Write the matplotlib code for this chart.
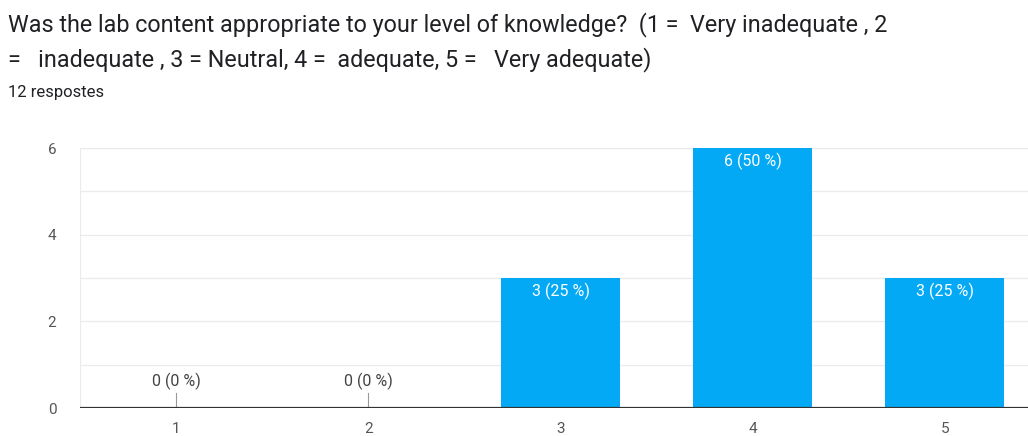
import matplotlib.pyplot as plt
import numpy as np

plt.rcParams['font.family'] = ['Roboto', 'DejaVu Sans']

categories = ['1', '2', '3', '4', '5']
counts = [0, 0, 3, 6, 3]
bar_labels = ['0 (0 %)', '0 (0 %)', '3 (25 %)', '6 (50 %)', '3 (25 %)']
y_ticks = [0, 2, 4, 6]

title_line1 = "Was the lab content appropriate to your level of knowledge?  (1 =  Very inadequate , 2"
title_line2 = "=   inadequate , 3 = Neutral, 4 =  adequate, 5 =   Very adequate)"
subtitle = "12 respostes"

W, H = 1028, 436
fig = plt.figure(figsize=(W / 100, H / 100), dpi=100)
# axes: x from px 80 to ~1041 (cut by the image edge), y=0 at px 408, y=6 at px 148
ax = fig.add_axes([80 / W, (H - 408) / H, 961 / W, 260 / H])

x = np.arange(1, len(categories) + 1)
ax.bar(x, counts, width=0.62, color='#03a9f4', zorder=3)

for xi, c, lab in zip(x, counts, bar_labels):
    if c > 0:
        ax.text(xi, c - 0.1, lab, ha='center', va='top', color='white',
                fontsize=11.5, zorder=4)
    else:
        ax.plot([xi, xi], [0, 0.34], color='#999999', lw=0.8, zorder=4)
        ax.text(xi, 0.42, lab, ha='center', va='bottom', color='#444444',
                fontsize=11.5, zorder=4)

ax.set_xlim(0.5, 5.5)
ax.set_ylim(0, 6)
ax.set_xticks(x)
ax.set_xticklabels(categories)
ax.set_yticks(y_ticks)
ax.set_yticks([1, 3, 5], minor=True)
ax.grid(axis='y', which='both', color='#ebebeb', lw=0.9, zorder=0)
ax.axhline(0, color='#333333', lw=1.6, zorder=5)
ax.axhline(6, color='#ebebeb', lw=0.9, zorder=0)
ax.axvline(0.5, color='#ebebeb', lw=0.9, zorder=0)

for s in ax.spines.values():
    s.set_visible(False)
ax.tick_params(axis='both', which='both', length=0, colors='#555555',
               labelsize=11)
ax.tick_params(axis='x', pad=10)
ax.tick_params(axis='y', pad=17)

fig.text(8 / W, 1 - 25 / H, title_line1, fontsize=16.8, color='#202124',
         va='center', ha='left')
fig.text(8 / W, 1 - 60 / H, title_line2, fontsize=16.8, color='#202124',
         va='center', ha='left')
fig.text(8 / W, 1 - 92 / H, subtitle, fontsize=12, color='#202124',
         va='center', ha='left')

fig.savefig('out.png', dpi=100)
